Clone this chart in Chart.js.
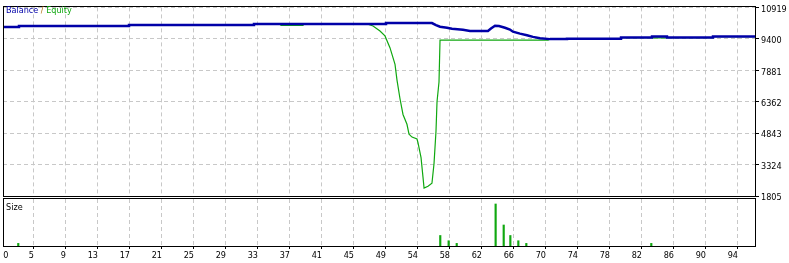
<!DOCTYPE html>
<html><head><meta charset="utf-8">
<script src="https://cdn.jsdelivr.net/npm/chart.js@4/dist/chart.umd.min.js"></script>
<style>
html,body{margin:0;padding:0;background:#fff;}
#wrap{position:relative;width:789px;height:263px;overflow:hidden;background:#fff;}
#c1{position:absolute;left:0;top:0;}
#c2{position:absolute;left:0;top:198px;}
</style></head><body>
<div id="wrap"><canvas id="c1" width="789" height="212"></canvas><canvas id="c2" width="789" height="65"></canvas></div>
<script>
// ---- data (x = trade number, y = account value) ----
const balanceT = [1.72,3.74,3.74,17.65,17.65,33.45,33.45,50.14,50.14,55.95,56.46,56.97,57.85,58.48,59.87,60.76,63.03,63.41,63.92,64.42,65.18,65.81,66.19,67.08,67.96,68.72,69.61,70.87,73.02,73.02,79.85,79.85,83.77,83.77,85.66,85.66,91.48,91.48,96.79];
const balanceV = [9970,9970,10017,10017,10065,10065,10112,10112,10160,10160,10065,9984,9936,9884,9841,9780,9780,9898,10031,10017,9936,9851,9747,9652,9576,9495,9433,9386,9386,9410,9410,9462,9462,9509,9509,9462,9462,9509,9509];
const equityT = [1.72,3.74,3.74,17.65,17.65,33.45,33.45,36.86,36.86,39.65,39.65,47.86,48.50,49.38,50.01,50.64,51.28,51.53,51.91,52.29,52.79,53.05,53.43,54.06,54.19,54.57,54.82,54.95,55.45,55.95,56.21,56.46,56.59,56.84,56.97,70.62,70.87,73.02,73.02,79.85,79.85,83.77,83.77,85.66,85.66,91.48,91.48,96.79];
const equityV = [9970,9970,10017,10017,10065,10065,10112,10112,10050,10050,10112,10112,10017,9780,9542,8973,8166,7406,6504,5745,5270,4795,4653,4558,4368,3656,2707,2185,2279,2422,3371,4938,6362,7311,9338,9338,9386,9386,9410,9410,9462,9462,9447,9447,9462,9462,9509,9509];
const sizeT = [3.65,57.0,58.06,59.08,64.0,65.02,65.86,66.87,67.88,83.68];
const sizeV = [0.01,0.04,0.02,0.01,0.16,0.08,0.04,0.02,0.01,0.01];
const yTicks = [1805,3324,4843,6362,7881,9400,10919];
const xLabels = ['0','5','9','13','17','21','25','29','33','37','41','45','49','54','58','62','66','70','74','78','82','86','90','94'];
const xZeroTick = 2.41, xTickStart = 5.638, xTickStep = 4.0455;
const xMin = 1.72, xMax = 96.79;

const gridTicks = xLabels.slice(1).map((_, k) => xTickStart + k * xTickStep);
const FONT = '"DejaVu Sans Condensed", "DejaVu Sans"';
const FSIZE = 9;
const GRID = '#c8c8c8';
const BAL = '#0000a8', EQ = '#10a810';

const framePlugin = {
  id: 'frame',
  afterDraw(chart) {
    const {ctx, chartArea: a} = chart;
    ctx.save();
    ctx.strokeStyle = '#000';
    ctx.lineWidth = 1;
    ctx.strokeRect(Math.round(a.left) + 0.5, Math.round(a.top) - 0.5, Math.round(a.right - a.left), Math.round(a.bottom - a.top) + 1);
    ctx.restore();
  }
};

const titlePlugin = {
  id: 'title1',
  afterDraw(chart) {
    const ctx = chart.ctx;
    ctx.save();
    ctx.font = FSIZE + 'px ' + FONT;
    ctx.textBaseline = 'middle';
    let x = 6; const y = 10.5;
    const parts = [['Balance', BAL], [' / ', '#b07010'], ['Equity', EQ]];
    for (const [t, c] of parts) { ctx.fillStyle = c; ctx.fillText(t, x, y); x += ctx.measureText(t).width; }
    ctx.restore();
  }
};
const sizeTitle = {
  id: 'title2',
  afterDraw(chart) {
    const ctx = chart.ctx;
    ctx.save();
    ctx.font = FSIZE + 'px ' + FONT;
    ctx.textBaseline = 'middle';
    ctx.fillStyle = '#000';
    ctx.fillText('Size', 6, 10);
    ctx.restore();
  }
};

new Chart(document.getElementById('c1'), {
  type: 'line',
  data: { datasets: [
    { label: 'Balance', data: balanceT.map((x, i) => ({x, y: balanceV[i]})), borderColor: BAL, borderWidth: 2.5, pointRadius: 0, tension: 0, fill: false },
    { label: 'Equity', data: equityT.map((x, i) => ({x, y: equityV[i]})), borderColor: EQ, borderWidth: 1.2, pointRadius: 0, tension: 0, fill: false }
  ]},
  options: {
    responsive: false, animation: false, devicePixelRatio: 1,
    layout: { padding: { left: 3, top: 4, right: 0, bottom: 0 } },
    plugins: { legend: { display: false }, tooltip: { enabled: false } },
    scales: {
      x: { type: 'linear', min: xMin, max: xMax,
        afterBuildTicks: s => { s.ticks = gridTicks.map(v => ({value: v})); },
        afterFit: s => { s.height = 16; },
        ticks: { display: false },
        grid: { color: GRID, drawTicks: false },
        border: { display: false, dash: [4, 3] } },
      y: { type: 'linear', position: 'right', min: 1805, max: 10919,
        afterBuildTicks: s => { s.ticks = yTicks.map(v => ({value: v})); },
        afterFit: s => { s.width = 34; },
        ticks: { font: { family: FONT, size: FSIZE }, color: '#000', padding: 2, labelOffset: 2, callback: v => String(v) },
        grid: { color: GRID, tickColor: '#000', tickLength: 4, tickBorderDash: [] },
        border: { display: false, dash: [4, 3] } }
    }
  },
  plugins: [framePlugin, titlePlugin]
});

new Chart(document.getElementById('c2'), {
  type: 'bar',
  data: { datasets: [
    { label: 'Size', data: sizeT.map((x, i) => ({x, y: sizeV[i]})), backgroundColor: EQ, barThickness: 1.5, borderWidth: 0 }
  ]},
  options: {
    responsive: false, animation: false, devicePixelRatio: 1,
    layout: { padding: { left: 3, top: 1, right: 34, bottom: 0 } },
    plugins: { legend: { display: false }, tooltip: { enabled: false } },
    scales: {
      x: { type: 'linear', min: xMin, max: xMax, offset: false,
        afterBuildTicks: s => { s.ticks = [xZeroTick].concat(gridTicks).map(v => ({value: v})); },
        afterFit: s => { s.height = 17; },
        ticks: { font: { family: FONT, size: FSIZE }, color: '#000', align: 'end', padding: 1, autoSkip: false, maxRotation: 0,
          callback: (v, i) => xLabels[i] },
        grid: { offset: false, color: c => c.index === 0 ? 'rgba(0,0,0,0)' : GRID,
          tickColor: c => c.index === 0 ? 'rgba(0,0,0,0)' : '#000', tickLength: 3, tickBorderDash: [] },
        border: { display: false, dash: [4, 3] } },
      y: { display: false, min: 0, max: 0.179 }
    }
  },
  plugins: [framePlugin, sizeTitle]
});
</script>
</body></html>
